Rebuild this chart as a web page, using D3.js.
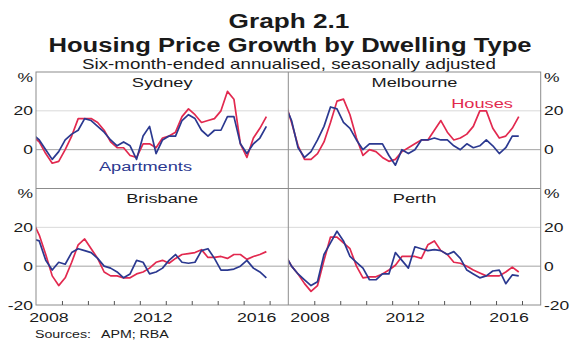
<!DOCTYPE html>
<html>
<head>
<meta charset="utf-8">
<script src="https://cdn.jsdelivr.net/npm/d3@7"></script>
<style>
  body { margin: 0; background: #fff; }
  svg { display: block; }
</style>
</head>
<body>
<svg id="chart" width="580" height="352"></svg>
<script>
// quarterly observations, plotted at mid-quarter
const quarters = ["2007Q4",
  "2008Q1","2008Q2","2008Q3","2008Q4","2009Q1","2009Q2","2009Q3","2009Q4",
  "2010Q1","2010Q2","2010Q3","2010Q4","2011Q1","2011Q2","2011Q3","2011Q4",
  "2012Q1","2012Q2","2012Q3","2012Q4","2013Q1","2013Q2","2013Q3","2013Q4",
  "2014Q1","2014Q2","2014Q3","2014Q4","2015Q1","2015Q2","2015Q3","2015Q4",
  "2016Q1","2016Q2","2016Q3","2016Q4"];

const sydneyHouses = [7, 4, -2, -7, -6, 0, 7, 16, 16, 16, 14, 10, 4, 1, 1, -3, -4,
  3, 3, 1, 6, 7, 9, 17, 21, 18, 14, 15, 16, 20, 30, 26, 3, -4, 6, 11, 17];
const sydneyApartments = [8, 5, 0, -5, -1, 5, 8, 10, 16, 15, 12, 9, 5, 2, 4, 2, -5,
  7, 12, -2, 5, 7, 7, 15, 18, 16, 10, 7, 10, 10, 17, 17, 3, -2, 3, 6, 12];

const melbourneHouses = [25, 14, 2, -5, -5, -2, 4, 14, 25, 26, 18, 6, -3, 0, -1, -4, -6,
  -5, -1, 1, 3, 5, 5, 10, 15, 9, 5, 6, 8, 12, 20, 20, 11, 6, 7, 11, 17];
const melbourneApartments = [23, 15, 1, -4, -1, 5, 12, 22, 21, 14, 11, 5, 0, 3, 3, 3, -3,
  -8, 0, -2, 0, 5, 5, 6, 5, 5, 2, 0, 3, 1, 2, 5, 2, -2, 1, 7, 7];

const brisbaneHouses = [23, 16, 6, -5, -10, -6, 2, 11, 14, 9, 4, -3, -5, -5, -6, -6, -4,
  -3, -1, 2, 3, 1.5, 4, 6, 6.5, 7, 8.5, 4.5, 4.5, 5, 4, 6, 6, 3.5, 5, 6, 7.5];
const brisbaneApartments = [14, 13, 3, -2, 2, 1, 7, 9, 8, 7, 4, 0, -1, -3, -6, -4, 3,
  2, -4, -3, -1, 3, 6, 2, 1.5, 2, 8, 9, 4, -2, -2, -1.5, 0, 3, -1, -3, -6];

const perthHouses = [6, 0, -4, -9, -13, -10, 3, 15, 15, 12, 9, 0, -6, -5.5, -5.5, -4, -2,
  0.5, 5, 5, 5, 4, 11, 13, 8, 6, 2, 1.5, 0, -2, -3.5, -5, -5, -5, -3, -0.5, -3];
const perthApartments = [6, 0, -4, -7, -10, -8, 6, 12, 18, 13, 5, 2, -1, -7, -7, -4, -4,
  7, 3, -1, 10, 9, 8, 8.5, 8, 6, 7.5, 4, -2, -4, -6, -5, -2.5, -2, -9, -4.5, -5];

const yearLabels = [2008, 2012, 2016];
const yearTicks = [2009, 2010, 2011, 2012, 2013, 2014, 2015, 2016, 2017];
const yTicksTop = [20, 0];
const yTicksBottom = [20, 0, -20];

const panels = [
  { name: "Sydney", col: 0, row: 0, houses: sydneyHouses, apartments: sydneyApartments },
  { name: "Melbourne", col: 1, row: 0, houses: melbourneHouses, apartments: melbourneApartments },
  { name: "Brisbane", col: 0, row: 1, houses: brisbaneHouses, apartments: brisbaneApartments },
  { name: "Perth", col: 1, row: 1, houses: perthHouses, apartments: perthApartments }
];

const houseColour = "#e2294f";
const aptColour = "#2b3990";
const textColour = "#1a1a1a";
const font = "'Liberation Sans', Arial, sans-serif";

// frame geometry
const colEdges = [36, 288.3, 540.7];
const rowEdges = [72, 188.5, 305];

const svg = d3.select("#chart");

const xScales = [0, 1].map(c =>
  d3.scaleLinear().domain([2008, 2017.72]).range([colEdges[c], colEdges[c + 1]]));
const yScales = [0, 1].map(r =>
  d3.scaleLinear().domain([-20, 40]).range([rowEdges[r + 1], rowEdges[r]]));

const qTime = q => +q.slice(0, 4) + (+q.slice(5) - 0.5) / 4;

// text is stretched horizontally in the reference, so widen it with scale()
function label(x, y, str, size, opts = {}) {
  const sx = opts.sx || 1.4;
  return svg.append("text")
    .attr("transform", `translate(${x},${y}) scale(${sx},1)`)
    .attr("text-anchor", opts.anchor || "middle")
    .attr("font-family", font)
    .attr("font-size", size)
    .attr("font-weight", opts.bold ? "bold" : "normal")
    .attr("fill", opts.fill || textColour)
    .attr("dy", opts.dy || 0)
    .text(str);
}

// titles
label(289, 28, "Graph 2.1", 20, { bold: true, sx: 1.31 });
label(290, 51.5, "Housing Price Growth by Dwelling Type", 21, { bold: true, sx: 1.22 });
label(289, 69, "Six-month-ended annualised, seasonally adjusted", 14, { sx: 1.34 });

// gridlines
panels.forEach(p => {
  const x = xScales[p.col], y = yScales[p.row];
  const g = svg.append("g");
  [20, 0].forEach(v => {
    g.append("line")
      .attr("x1", x.range()[0]).attr("x2", x.range()[1])
      .attr("y1", y(v)).attr("y2", y(v))
      .attr("stroke", v === 0 ? "#a3a3a3" : "#d9d9d9")
      .attr("stroke-width", 1);
  });
});

// clip paths + lines
const line = (x, y) => d3.line()
  .x((d, i) => x(qTime(quarters[i])))
  .y(d => y(d));

panels.forEach((p, k) => {
  const x = xScales[p.col], y = yScales[p.row];
  svg.append("clipPath").attr("id", "clip" + k)
    .append("rect")
    .attr("x", x.range()[0]).attr("y", y.range()[1])
    .attr("width", x.range()[1] - x.range()[0])
    .attr("height", y.range()[0] - y.range()[1]);

  const g = svg.append("g").attr("clip-path", `url(#clip${k})`);
  g.append("path").datum(p.houses)
    .attr("d", line(x, y))
    .attr("fill", "none")
    .attr("stroke", houseColour)
    .attr("stroke-width", 1.7)
    .attr("stroke-linejoin", "round");
  g.append("path").datum(p.apartments)
    .attr("d", line(x, y))
    .attr("fill", "none")
    .attr("stroke", aptColour)
    .attr("stroke-width", 1.7)
    .attr("stroke-linejoin", "round");

  // panel title
  label((x.range()[0] + x.range()[1]) / 2, y.range()[1] + 14.5, p.name, 13.5, { sx: 1.35 });
});

// frame
const frame = svg.append("g").attr("stroke", "#8c8c8c").attr("stroke-width", 1).attr("fill", "none");
frame.append("rect")
  .attr("x", colEdges[0]).attr("y", rowEdges[0])
  .attr("width", colEdges[2] - colEdges[0]).attr("height", rowEdges[2] - rowEdges[0]);
frame.append("line").attr("x1", colEdges[1]).attr("x2", colEdges[1])
  .attr("y1", rowEdges[0]).attr("y2", rowEdges[2]);
frame.append("line").attr("x1", colEdges[0]).attr("x2", colEdges[2])
  .attr("y1", rowEdges[1]).attr("y2", rowEdges[1]);

// x axis ticks (pointing up) and year labels
xScales.forEach((x, c) => {
  const ax = svg.append("g")
    .attr("transform", `translate(0,${rowEdges[2]})`)
    .call(d3.axisBottom(x).tickValues(yearTicks).tickSize(-4).tickFormat(""));
  ax.select(".domain").remove();
  ax.selectAll("line").attr("stroke", "#555");

  yearLabels.forEach(yr => {
    let cx = x(yr + 0.5);
    const t = label(cx, 322, yr, 12.5, { sx: 1.42 });
    // keep the first label of the right panel clear of the divider
    const half = t.node().getComputedTextLength() * 1.42 / 2;
    if (c === 1 && cx - half < colEdges[1] + 2) {
      cx = colEdges[1] + 2 + half;
      t.attr("transform", `translate(${cx},322) scale(1.42,1)`);
    }
  });
});

// y axis labels, both sides
[0, 1].forEach(r => {
  const y = yScales[r];
  const ticks = r === 0 ? yTicksTop : yTicksBottom;
  ticks.forEach(v => {
    label(33, y(v), v, 12.5, { anchor: "end", dy: "0.36em", sx: 1.4 });
    label(544, y(v), v, 12.5, { anchor: "start", dy: "0.36em", sx: 1.4 });
  });
  label(33, rowEdges[r] + 5, "%", 12.5, { anchor: "end", dy: "0.36em", sx: 1.4 });
  label(544, rowEdges[r] + 5, "%", 12.5, { anchor: "start", dy: "0.36em", sx: 1.4 });
});

// series labels
label(145.5, 171, "Apartments", 13.5, { sx: 1.35, fill: aptColour });
label(482, 107.5, "Houses", 13.5, { sx: 1.35, fill: houseColour });

// sources
label(35, 338, "Sources:", 10, { anchor: "start", sx: 1.42 });
label(101, 338, "APM; RBA", 10, { anchor: "start", sx: 1.42 });
</script>
</body>
</html>
